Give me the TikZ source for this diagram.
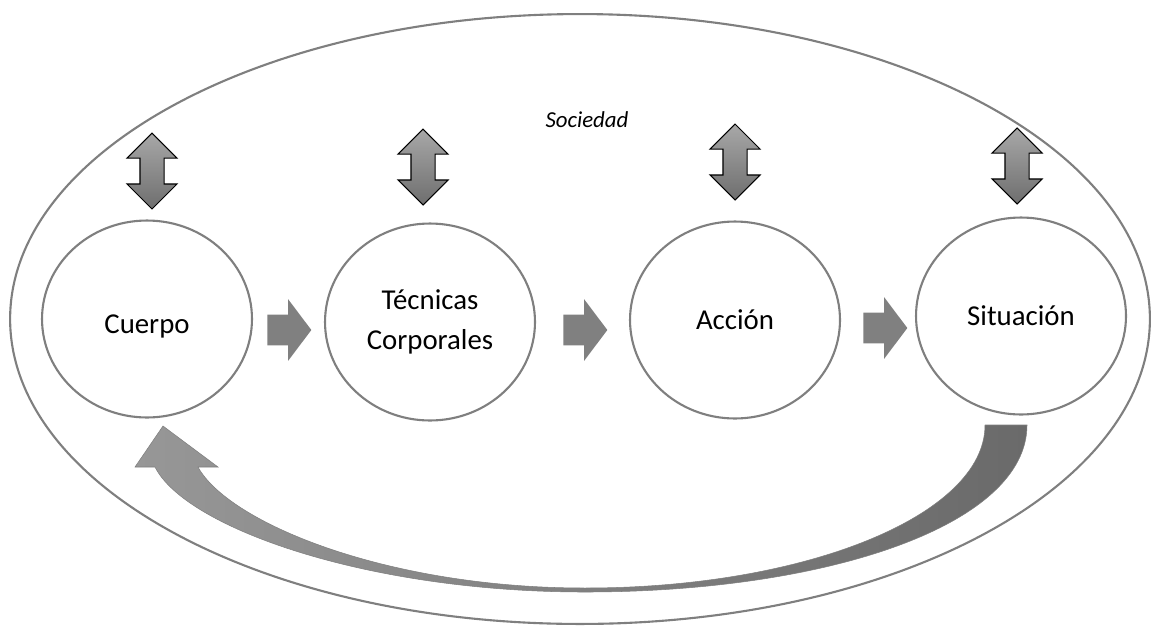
\documentclass[tikz,border=0pt]{standalone}
\usepackage{fontspec}
\setmainfont{Carlito}
\usetikzlibrary{shapes.geometric,shapes.arrows}
\definecolor{ringgray}{HTML}{7F7F7F}
\definecolor{flowgray}{HTML}{808080}
\definecolor{linktop}{HTML}{A8A8A8}
\definecolor{linkbottom}{HTML}{6E6E6E}
\definecolor{backleft}{HTML}{979797}
\definecolor{backright}{HTML}{6A6A6A}

\begin{document}
\begin{tikzpicture}[
    x=0.02cm,
    y=-0.02cm,
    ring/.style={
        ellipse,
        draw=ringgray,
        line width=1.2pt,
        minimum width=4.2cm,
        minimum height=3.94cm,
        inner sep=0pt,
        align=center,
        font=\fontsize{16.4}{22.8}\selectfont
    },
    flow/.style={
        single arrow,
        fill=flowgray,
        minimum height=0.88cm,
        inner xsep=0pt,
        inner ysep=0.3cm,
        single arrow head extend=0.31cm,
        single arrow tip angle=106,
        anchor=tail
    },
    link/.style={
        double arrow,
        rotate=90,
        draw=black,
        line width=0.6pt,
        top color=linktop,
        bottom color=linkbottom,
        minimum height=1.52cm,
        inner xsep=0pt,
        inner ysep=0.23cm,
        double arrow head extend=0.26cm
    },
    feedback/.style={
        left color=backleft,
        right color=backright,
        draw=ringgray,
        line width=0.3pt
    }
]
\useasboundingbox (0,0) rectangle (1151,626);

\node[ellipse, draw=ringgray, line width=1.2pt, inner sep=0pt,
      minimum width=22.8cm, minimum height=12.2cm] (society) at (580,319) {};

\node[font=\fontsize{13}{15}\selectfont\itshape] (societylabel) at (587,120)
{Sociedad};

\node[ring] (body) at (147,319)
{\raisebox{-4.5pt}[\height][\depth]{Cuerpo}};

\node[ring] (techniques) at (430,322)
{Técnicas\\Corporales};

\node[ring] (action) at (735,320)
{Acción};

\node[ring] (situation) at (1021,316)
{Situación};

\node[flow] (bodytotech) at (267,330) {};
\node[flow] (techtoaction) at (563,330) {};
\node[flow] (actiontosit) at (863,328) {};

\node[link] (bodylink) at (152,171) {};
\node[link] (techlink) at (423,167) {};
\node[link] (actionlink) at (735,162) {};
\node[link] (situationlink) at (1017,166) {};

\path[feedback]
(985,425) -- (1027,425)
.. controls (1027,525) and (828,592) .. (585,592)
.. controls (365,592) and (185,527) .. (155,467)
-- (135,467) -- (163,426) -- (218,467) -- (198,467)
.. controls (228,522) and (385,588) .. (585,588)
.. controls (806,588) and (985,515) .. (985,425)
-- cycle;

\end{tikzpicture}
\end{document}
